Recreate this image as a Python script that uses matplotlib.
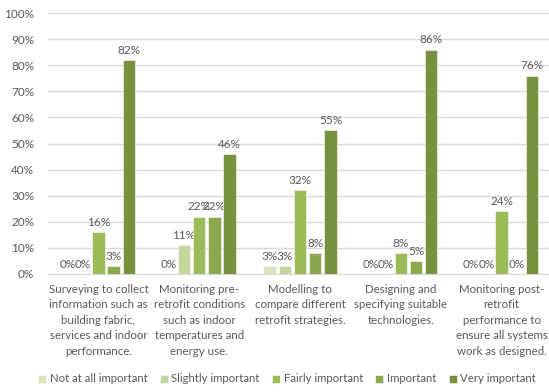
import matplotlib.pyplot as plt
import numpy as np

plt.rcParams['font.family'] = ['Lato', 'DejaVu Sans']

# Survey responses (% of respondents) per retrofit activity
categories = [
    'Surveying to collect\ninformation such as\nbuilding fabric,\nservices and indoor\nperformance.',
    'Monitoring pre-\nretrofit conditions\nsuch as indoor\ntemperatures and\nenergy use.',
    'Modelling to\ncompare different\nretrofit strategies.',
    'Designing and\nspecifying suitable\ntechnologies.',
    'Monitoring post-\nretrofit\nperformance to\nensure all systems\nwork as designed.',
]
levels = ['Not at all important', 'Slightly important', 'Fairly important',
          'Important', 'Very important']
not_at_all = [0, 0, 3, 0, 0]
slightly = [0, 11, 3, 0, 0]
fairly = [16, 22, 32, 8, 24]
important = [3, 22, 8, 5, 0]
very = [82, 46, 55, 86, 76]

series = [not_at_all, slightly, fairly, important, very]
colors = ['#d7e4bd', '#c3d69b', '#9bbb59', '#8ba84f', '#76923c']
text_color = '#595959'

fig = plt.figure(figsize=(5.49, 3.92), dpi=100)
ax = fig.add_axes([48 / 549, 1 - 274 / 392, 504 / 549, 261 / 392])

x = np.arange(len(categories))
step = 0.151
width = 0.124
for i, (vals, col, name) in enumerate(zip(series, colors, levels)):
    pos = x + (i - 2) * step
    ax.bar(pos, vals, width, color=col, label=name,
           edgecolor='white', linewidth=0.4, zorder=3)
    for p, v in zip(pos, vals):
        ax.annotate(f'{v}%', (p, v), xytext=(0, 3), textcoords='offset points',
                    ha='center', va='bottom', fontsize=8.5, color=text_color)

ax.set_xlim(-0.5, 4.5)
ax.set_ylim(0, 100)
ax.set_yticks(range(0, 101, 10))
ax.set_yticklabels([f'{t}%' for t in range(0, 101, 10)])
ax.set_xticks(x)
ax.set_xticklabels(categories, fontsize=8.3, color=text_color, linespacing=1.5)
ax.tick_params(axis='y', labelsize=8.5, labelcolor=text_color, length=0, pad=10)
ax.tick_params(axis='x', length=0, pad=7)
ax.grid(axis='y', color='#d9d9d9', linewidth=1, zorder=0)
for side in ['top', 'right', 'left']:
    ax.spines[side].set_visible(False)
ax.spines['bottom'].set_color('#d9d9d9')

ax.legend(loc='center', bbox_to_anchor=(287 / 549, 1 - 379 / 392),
          bbox_transform=fig.transFigure, ncol=5, frameon=False, fontsize=8.2,
          handlelength=0.7, handleheight=0.7, handletextpad=0.3,
          columnspacing=1.1, labelcolor=text_color)

fig.savefig('out.png', dpi=100)
